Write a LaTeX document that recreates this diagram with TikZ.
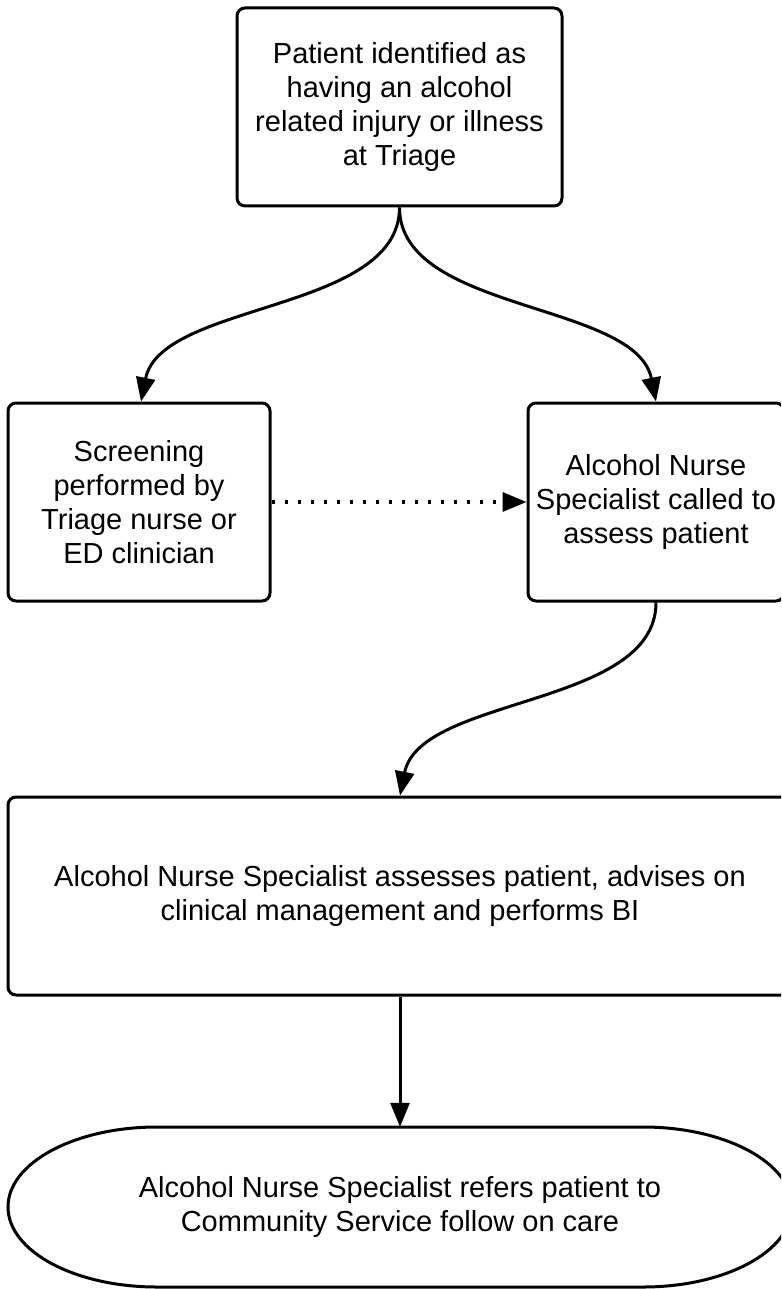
\documentclass[tikz,border=0pt]{standalone}
\usepackage{fontspec}
\setmainfont{Liberation Sans}
\usetikzlibrary{arrows.meta}
\tikzset{
  stepbox/.style={rectangle, draw, line width=3pt, rounded corners=8pt, inner sep=0pt, align=center,
    font=\fontsize{29}{34}\selectfont},
  arr/.style={line width=3pt, -{Triangle[length=24pt,width=19pt]}},
  dotarr/.style={line width=3.5pt, dash pattern=on 3.5pt off 9.5pt, -{Triangle[length=24pt,width=19pt]}}
}
\begin{document}
\begin{tikzpicture}[x=1pt,y=-1pt]
\useasboundingbox (0,0) rectangle (781,1289);
\clip (0,0) rectangle (781,1289);
\fill[white] (0,0) rectangle (781,1289);
\node[stepbox, minimum width=325pt, minimum height=198pt] (top) at (399.5,107)
  {Patient identified as\\having an alcohol\\related injury or illness\\at Triage};
\node[stepbox, minimum width=262pt, minimum height=198pt] (left) at (139,502)
  {Screening\\performed by\\Triage nurse or\\ED clinician};
\node[stepbox, minimum width=256pt, minimum height=198pt] (right) at (656,502)
  {Alcohol Nurse\\Specialist called to\\assess patient};
\node[stepbox, minimum width=784pt, minimum height=198pt] (big) at (400,896)
  {Alcohol Nurse Specialist assesses patient, advises on\\clinical management and performs BI};
\node[rectangle, inner sep=0pt, align=center, font=\fontsize{29}{34}\selectfont,
  minimum width=784pt, minimum height=160pt] (term) at (400,1207)
  {Alcohol Nurse Specialist refers patient to\\Community Service follow on care};
\draw[line width=3pt] (157,1127) -- (643,1127)
  arc[start angle=90, end angle=-90, x radius=149pt, y radius=80pt]
  -- (157,1287)
  arc[start angle=270, end angle=90, x radius=149pt, y radius=80pt] -- cycle;
\draw[arr] (top.south) .. controls +(0,105) and +(20,-100) .. ([xshift=2pt]left.north);
\draw[arr] (top.south) .. controls +(0,105) and +(-20,-100) .. (right.north);
\draw[dotarr] (left.east) -- (right.west);
\draw[arr] (right.south) .. controls +(0,105) and +(20,-100) .. (big.north);
\draw[arr] (big.south) -- (term.north);
\end{tikzpicture}
\end{document}
